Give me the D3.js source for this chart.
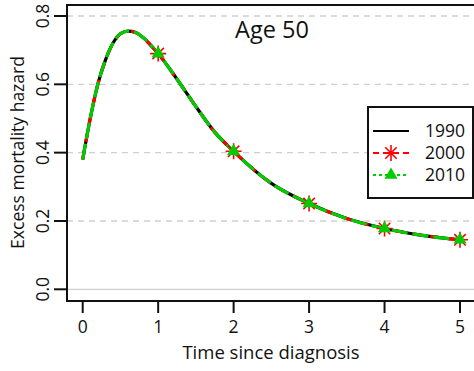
<!DOCTYPE html>
<html>
<head>
<meta charset="utf-8">
<script src="https://cdn.jsdelivr.net/npm/d3@7"></script>
<style>
  body { margin: 0; background: #fff; }
  text { font-family: "Open Sans", sans-serif; fill: #111; }
</style>
</head>
<body>
<div id="chart"></div>
<script>
// DATA
const times = [0, 0.1, 0.2, 0.3, 0.4, 0.5, 0.6, 0.7, 0.8, 0.9, 1.0, 1.25, 1.5, 1.75, 2.0, 2.5, 3.0, 3.5, 4.0, 4.5, 5.0];
const hazard1990 = [0.38, 0.5, 0.6, 0.67, 0.72, 0.748, 0.756, 0.752, 0.737, 0.715, 0.69, 0.615, 0.535, 0.46, 0.404, 0.31, 0.251, 0.207, 0.178, 0.158, 0.145];
const hazard2000 = [0.38, 0.5, 0.6, 0.67, 0.72, 0.748, 0.756, 0.752, 0.737, 0.715, 0.69, 0.615, 0.535, 0.46, 0.404, 0.31, 0.251, 0.207, 0.178, 0.158, 0.145];
const hazard2010 = [0.38, 0.5, 0.6, 0.67, 0.72, 0.748, 0.756, 0.752, 0.737, 0.715, 0.69, 0.615, 0.535, 0.46, 0.404, 0.31, 0.251, 0.207, 0.178, 0.158, 0.145];
const markerTimes = [1, 2, 3, 4, 5];
const years = ["1990", "2000", "2010"];
const xTicks = [0, 1, 2, 3, 4, 5];
const yTicks = [0.0, 0.2, 0.4, 0.6, 0.8];

// CONSTANTS
const width = 474, height = 371;
const plot = { left: 67, top: 5, bottom: 301, right: 480 };

const svg = d3.select("#chart").append("svg")
  .attr("width", width).attr("height", height);

const xScale = d3.scaleLinear().domain([0, 5]).range([82.7, 460]);
const yScale = d3.scaleLinear().domain([0, 0.8]).range([289.3, 16]);

// grid
svg.selectAll(".grid")
  .data(yTicks)
  .join("line")
  .attr("x1", plot.left).attr("x2", plot.right)
  .attr("y1", d => yScale(d)).attr("y2", d => yScale(d))
  .attr("stroke", "#cfcfcf")
  .attr("stroke-width", 1.3)
  .attr("stroke-dasharray", d => d === 0 ? null : "6,5");

// lines
const line = d3.line().x(d => xScale(d[0])).y(d => yScale(d[1])).curve(d3.curveMonotoneX);
const series = [
  { vals: hazard1990, color: "#000", dash: null },
  { vals: hazard2000, color: "#ff0000", dash: "9,9" },
  { vals: hazard2010, color: "#00cc00", dash: "16,5" }
];
series.forEach(s => {
  svg.append("path")
    .datum(times.map((t, i) => [t, s.vals[i]]))
    .attr("d", line)
    .attr("fill", "none")
    .attr("stroke", s.color)
    .attr("stroke-width", 3.2)
    .attr("stroke-dasharray", s.dash);
});

// markers
const valAt = (arr, t) => arr[times.indexOf(t)];
const star = "M-8,0L8,0M0,-8L0,8M-5.7,-5.7L5.7,5.7M-5.7,5.7L5.7,-5.7";
svg.selectAll(".star")
  .data(markerTimes)
  .join("path")
  .attr("transform", d => `translate(${xScale(d)},${yScale(valAt(hazard2000, d))})`)
  .attr("d", star)
  .attr("stroke", "#ff0000").attr("stroke-width", 1.6);
svg.selectAll(".tri")
  .data(markerTimes)
  .join("path")
  .attr("transform", d => `translate(${xScale(d)},${yScale(valAt(hazard2010, d))})`)
  .attr("d", d3.symbol().type(d3.symbolTriangle).size(75))
  .attr("fill", "#00cc00");

// box
svg.append("path")
  .attr("d", `M${plot.right},${plot.top}H${plot.left}V${plot.bottom}H${plot.right}`)
  .attr("fill", "none").attr("stroke", "#111").attr("stroke-width", 2);

// x axis
svg.selectAll(".xtick").data(xTicks).join("line")
  .attr("x1", d => xScale(d)).attr("x2", d => xScale(d))
  .attr("y1", plot.bottom).attr("y2", 313)
  .attr("stroke", "#111").attr("stroke-width", 2);
svg.selectAll(".xlab").data(xTicks).join("text")
  .attr("x", d => xScale(d)).attr("y", 333)
  .attr("text-anchor", "middle").attr("font-size", 17.5)
  .text(d => d);
svg.append("text")
  .attr("x", 271).attr("y", 359)
  .attr("text-anchor", "middle").attr("font-size", 18.5)
  .text("Time since diagnosis");

// y axis
svg.selectAll(".ytick").data(yTicks).join("line")
  .attr("x1", 54).attr("x2", plot.left)
  .attr("y1", d => yScale(d)).attr("y2", d => yScale(d))
  .attr("stroke", "#111").attr("stroke-width", 2);
svg.selectAll(".ylab").data(yTicks).join("text")
  .attr("transform", d => `translate(49,${yScale(d)}) rotate(-90)`)
  .attr("text-anchor", "middle").attr("font-size", 17.5)
  .text(d => d3.format(".1f")(d));
svg.append("text")
  .attr("transform", `translate(24,152.5) rotate(-90)`)
  .attr("text-anchor", "middle").attr("font-size", 17.5)
  .text("Excess mortality hazard");

// title
svg.append("text")
  .attr("x", 272).attr("y", 38)
  .attr("text-anchor", "middle").attr("font-size", 23.5)
  .text("Age 50");

// legend
const legend = svg.append("g");
legend.append("rect")
  .attr("x", 368).attr("y", 107).attr("width", 105).attr("height", 91)
  .attr("fill", "#fff").attr("stroke", "#111").attr("stroke-width", 2);
years.forEach((yr, i) => {
  const ly = 131 + i * 22;
  legend.append("line")
    .attr("x1", 373).attr("x2", 409).attr("y1", ly).attr("y2", ly)
    .attr("stroke", series[i].color).attr("stroke-width", 2)
    .attr("stroke-dasharray", i === 0 ? null : (i === 1 ? "6,4" : "3,3"));
  if (i === 1) legend.append("path").attr("transform", `translate(391,${ly})`).attr("d", star)
    .attr("stroke", "#ff0000").attr("stroke-width", 1.6);
  if (i === 2) legend.append("path").attr("transform", `translate(391,${ly})`)
    .attr("d", d3.symbol().type(d3.symbolTriangle).size(75)).attr("fill", "#00cc00");
  legend.append("text")
    .attr("x", 425).attr("y", ly + 6).attr("font-size", 17.5)
    .text(yr);
});
</script>
</body>
</html>
